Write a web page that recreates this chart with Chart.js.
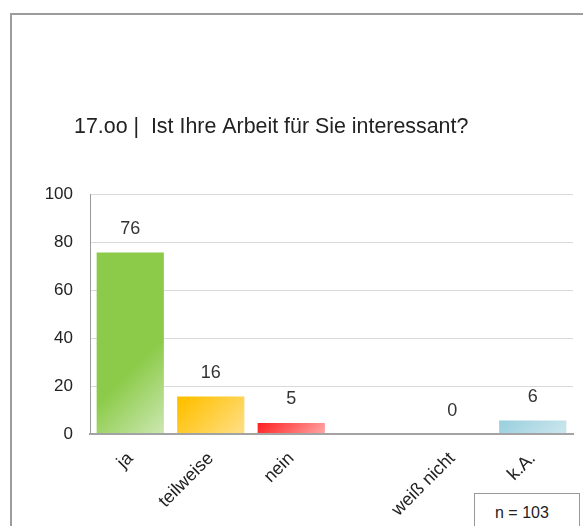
<!DOCTYPE html>
<html>
<head>
<meta charset="utf-8">
<script src="https://cdn.jsdelivr.net/npm/chart.js@4/dist/chart.umd.min.js"></script>
<style>
  html, body { margin: 0; padding: 0; background: #fff; }
  #wrap { position: relative; width: 583px; height: 526px; overflow: hidden; }
  #frame { position: absolute; left: 10px; top: 13px; width: 640px; height: 600px;
           border: 2px solid #9c9c9c; box-sizing: border-box; }
  #n { position: absolute; left: 474px; top: 493px; width: 106px; height: 60px;
       border: 1px solid #999; box-sizing: border-box; background: #fff;
       font: 16px "Liberation Sans", Arial, sans-serif; color: #222; padding: 10px 0 0 20px; }
  canvas { position: absolute; left: 0; top: 0; }
</style>
</head>
<body>
<div id="wrap">
  <div id="frame"></div>
  <canvas id="c" width="583" height="526"></canvas>
  <div id="n"></div>
</div>
<script>
// Survey answers and their counts
const categories = ['ja', 'teilweise', 'nein', '', 'weiß nicht', 'k.A.'];
const values = [76, 16, 5, null, 0, 6];
const yTicks = [0, 20, 40, 60, 80, 100];
const sampleSize = 103;
const titleText = '17.oo |  Ist Ihre Arbeit für Sie interessant?';

// Fill colours per bar: solid tone and the lighter tone it fades to
const barShades = [
  ['#8ccb4a', '#cde8b3'],
  ['#ffc000', '#ffe08a'],
  ['#ff0000', '#ffa8a8'],
  ['#ffffff', '#ffffff'],
  ['#8fcadb', '#cde7ee'],
  ['#8fcadb', '#cde7ee']
];
const BAR_FRACTION = 0.86;
const FONT = '"Liberation Sans", Arial, sans-serif';

document.getElementById('n').textContent = 'n = ' + sampleSize;

// 45° fade towards the lower right corner of each bar
function barFill(ctx) {
  const shades = barShades[ctx.dataIndex] || barShades[0];
  const chart = ctx.chart;
  const xs = chart.scales.x, ys = chart.scales.y;
  if (!xs || !ys || ctx.raw == null || !chart.chartArea) return shades[0];
  const cx = xs.getPixelForValue(ctx.dataIndex);
  const w = xs.width / categories.length * BAR_FRACTION;
  const base = ys.getPixelForValue(0);
  const g = chart.ctx.createLinearGradient(cx - w / 2, base - w, cx + w / 2, base);
  g.addColorStop(0, shades[0]);
  g.addColorStop(0.3, shades[0]);
  g.addColorStop(1, shades[1]);
  return g;
}

// Heading text
const heading = {
  id: 'heading',
  afterDraw(chart) {
    const c = chart.ctx;
    c.save();
    c.font = '21.4px ' + FONT;
    c.fillStyle = '#222';
    c.textAlign = 'left';
    c.textBaseline = 'middle';
    c.fillText(titleText, 74, 127);
    c.restore();
  }
};

// Prints each bar's value above it
const valueLabels = {
  id: 'valueLabels',
  afterDatasetsDraw(chart) {
    const c = chart.ctx;
    const meta = chart.getDatasetMeta(0);
    c.save();
    c.font = '18px ' + FONT;
    c.fillStyle = '#333';
    c.textAlign = 'center';
    c.textBaseline = 'middle';
    meta.data.forEach((bar, i) => {
      if (values[i] == null) return;
      c.fillText(String(values[i]), bar.x, bar.y - 23);
    });
    c.restore();
  }
};

new Chart(document.getElementById('c'), {
  type: 'bar',
  data: {
    labels: categories,
    datasets: [{
      data: values,
      backgroundColor: barFill,
      borderWidth: 1,
      borderColor: 'rgba(255,255,255,0.35)',
      barPercentage: BAR_FRACTION,
      categoryPercentage: 1
    }]
  },
  options: {
    responsive: false,
    devicePixelRatio: 1,
    animation: false,
    layout: { padding: { left: 40, right: 10, top: 194, bottom: 0 } },
    plugins: {
      legend: { display: false },
      tooltip: { enabled: false },
      title: { display: false }
    },
    scales: {
      x: {
        grid: { display: false, drawTicks: false },
        border: { display: true, color: '#a3a3a3', width: 2, z: 1 },
        ticks: {
          autoSkip: false, minRotation: 45, maxRotation: 45, padding: 14,
          color: '#222', font: { family: FONT, size: 18 }
        },
        afterFit(scale) { scale.height = 92; }
      },
      y: {
        min: 0, max: 100,
        afterBuildTicks(scale) { scale.ticks = yTicks.map(v => ({ value: v })); },
        grid: { color: '#dadada', drawTicks: false },
        border: { display: true, color: '#999', width: 1 },
        ticks: { padding: 17, color: '#222', font: { family: FONT, size: 17 } },
        afterFit(scale) { scale.width = 50; }
      }
    }
  },
  plugins: [valueLabels, heading]
});
</script>
</body>
</html>
